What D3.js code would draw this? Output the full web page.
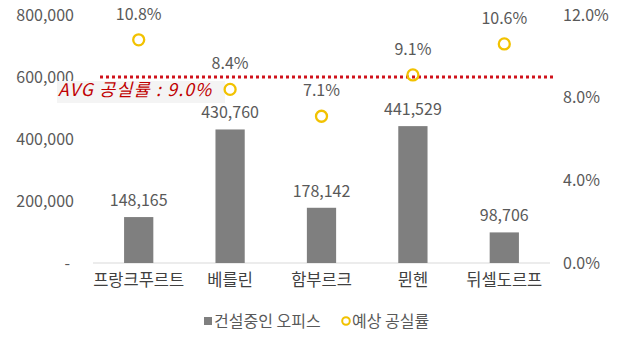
<!DOCTYPE html>
<html><head><meta charset="utf-8">
<script src="https://cdn.jsdelivr.net/npm/d3@7"></script>
<style>
html,body{margin:0;padding:0;background:#fff;}
svg{display:block;font-family:"Noto Sans CJK KR","Noto Sans",sans-serif;}
</style></head>
<body><svg id="c" width="617" height="339"></svg>
<script>
const categories = ["프랑크푸르트","베를린","함부르크","뮌헨","뒤셀도르프"];
const offices = [148165, 430760, 178142, 441529, 98706];
const vacancy = [10.8, 8.4, 7.1, 9.1, 10.6];
const avgVacancy = 9.0;
const leftTicks = [0, 200000, 400000, 600000, 800000];
const rightTicks = [0, 4, 8, 12];
const seriesNames = ["건설중인 오피스","예상 공실률"];

(function(){
const svg = d3.select("#c");
const pl = 93, pr = 550, pt = 15, pb = 263;
const x = d3.scaleBand().domain(categories).range([pl, pr]);
const yL = d3.scaleLinear().domain([0, 800000]).range([pb, pt]);
const yR = d3.scaleLinear().domain([0, 12]).range([pb, pt]);
const txt = "#595959";
const fmt = d3.format(",");
const fs = "16px";

const gl = svg.append("g").attr("transform", `translate(${pl},0)`)
  .call(d3.axisLeft(yL).tickValues(leftTicks).tickSize(0).tickPadding(19)
    .tickFormat(d => d === 0 ? "-" : fmt(d)));
gl.select(".domain").remove();
gl.selectAll("text").attr("fill", txt).style("font-size", fs).attr("font-family","Noto Sans CJK KR");
gl.selectAll(".tick").filter(d=>d===0).select("text").attr("dx", -4);

const gr = svg.append("g").attr("transform", `translate(${pr},0)`)
  .call(d3.axisRight(yR).tickValues(rightTicks).tickSize(0).tickPadding(13)
    .tickFormat(d => d.toFixed(1) + "%"));
gr.select(".domain").remove();
gr.selectAll("text").attr("fill", txt).style("font-size", fs).attr("font-family","Noto Sans CJK KR");

svg.append("line").attr("x1", pl).attr("x2", pr).attr("y1", pb).attr("y2", pb)
  .attr("stroke", "#d9d9d9").attr("stroke-width", 1);

const gx = svg.append("g").attr("transform", `translate(0,${pb})`)
  .call(d3.axisBottom(x).tickSize(0).tickPadding(11));
gx.select(".domain").remove();
gx.selectAll("text").attr("fill", "#404040").style("font-size", "16.5px").attr("font-family","Noto Sans CJK KR");

const bw = x.bandwidth() * 0.32;
svg.selectAll("rect.bar").data(offices).join("rect").attr("class","bar")
  .attr("x", (d,i) => x(categories[i]) + x.bandwidth()/2 - bw/2)
  .attr("width", bw)
  .attr("y", d => yL(d))
  .attr("height", d => pb - yL(d))
  .attr("fill", "#7f7f7f");
svg.selectAll("text.bl").data(offices).join("text").attr("class","bl")
  .attr("x", (d,i) => x(categories[i]) + x.bandwidth()/2)
  .attr("y", d => yL(d) - 11)
  .attr("text-anchor","middle").attr("fill", txt).style("font-size",fs)
  .text(d => fmt(d));

svg.append("line").attr("x1", 100).attr("x2", 553)
  .attr("y1", yR(avgVacancy)).attr("y2", yR(avgVacancy))
  .attr("stroke", "#d0121b").attr("stroke-width", 3).attr("stroke-dasharray", "3,3");
svg.append("rect").attr("x", 57).attr("y", yR(avgVacancy)+4).attr("width", 168).attr("height", 22)
  .attr("fill", "#f4f4f4");
svg.append("text").attr("x", 58).attr("y", yR(avgVacancy)+18.5)
  .attr("fill", "#c00000").style("font-size","17.5px").style("font-style","italic")
  .style("letter-spacing","1.2px")
  .text("AVG 공실률 : " + avgVacancy.toFixed(1) + "%");

svg.selectAll("circle.pt").data(vacancy).join("circle").attr("class","pt")
  .attr("cx", (d,i) => x(categories[i]) + x.bandwidth()/2)
  .attr("cy", d => yR(d)).attr("r", 5.5)
  .attr("fill", "none").attr("stroke", "#f2c200").attr("stroke-width", 2.3);
svg.selectAll("text.pl").data(vacancy).join("text").attr("class","pl")
  .attr("x", (d,i) => x(categories[i]) + x.bandwidth()/2)
  .attr("y", d => yR(d) - 20)
  .attr("text-anchor","middle").attr("fill", txt).style("font-size",fs)
  .text(d => d.toFixed(1) + "%");

const lg = svg.append("g").attr("transform","translate(0,322)");
lg.append("rect").attr("x", 204).attr("y", -5).attr("width", 8).attr("height", 8).attr("fill", "#7f7f7f");
lg.append("text").attr("x", 214).attr("y", 5).attr("fill", txt).style("font-size",fs).text(seriesNames[0]);
lg.append("circle").attr("cx", 346).attr("cy", -1).attr("r", 3.8).attr("fill","none")
  .attr("stroke","#f2c200").attr("stroke-width",2);
lg.append("text").attr("x", 352).attr("y", 5).attr("fill", txt).style("font-size",fs).text(seriesNames[1]);
})();
</script></body></html>
